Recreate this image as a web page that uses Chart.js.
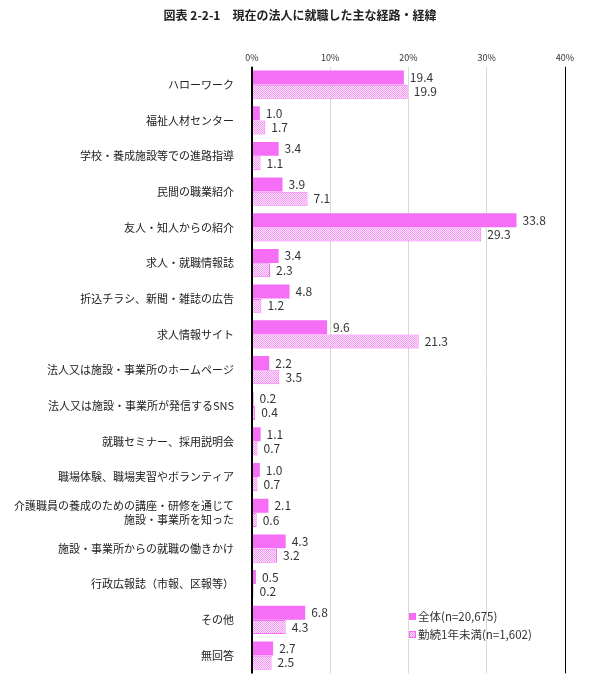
<!DOCTYPE html>
<html><head><meta charset="utf-8">
<script src="https://cdn.jsdelivr.net/npm/chart.js@4/dist/chart.umd.min.js"></script>
<style>html,body{margin:0;padding:0;background:#fff}#w{width:593px;height:690px}</style>
</head><body><div id="w"><canvas id="c"></canvas></div>
<script>
const categories = ["ハローワーク","福祉人材センター","学校・養成施設等での進路指導","民間の職業紹介","友人・知人からの紹介","求人・就職情報誌","折込チラシ、新聞・雑誌の広告","求人情報サイト","法人又は施設・事業所のホームページ","法人又は施設・事業所が発信するSNS","就職セミナー、採用説明会","職場体験、職場実習やボランティア",["介護職員の養成のための講座・研修を通じて","施設・事業所を知った"],"施設・事業所からの就職の働きかけ","行政広報誌（市報、区報等）","その他","無回答"];
const allValues = [19.4,1.0,3.4,3.9,33.8,3.4,4.8,9.6,2.2,0.2,1.1,1.0,2.1,4.3,0.5,6.8,2.7];
const newValues = [19.9,1.7,1.1,7.1,29.3,2.3,1.2,21.3,3.5,0.4,0.7,0.7,0.6,3.2,0.2,4.3,2.5];
const seriesNames = ["全体(n=20,675)","勤続1年未満(n=1,602)"];
const tickLabels = ["0%","10%","20%","30%","40%"];

const PINK = "#f56ef5";
function hatch(){
  const p=document.createElement('canvas');p.width=2;p.height=2;
  const x=p.getContext('2d');x.fillStyle='#fde6fd';x.fillRect(0,0,2,2);
  x.fillStyle='#f496f4';x.fillRect(0,0,1,1);x.fillRect(1,1,1,1);
  return x.createPattern(p,'repeat');
}
const pat = hatch();
const font = "'Noto Sans CJK JP', sans-serif";
Chart.defaults.font.family = font;

const labelsPlugin = {
  id:'lbl',
  afterDatasetsDraw(ch){
    const c=ch.ctx;c.save();c.font="12px "+font;c.fillStyle="#333";c.textBaseline='middle';
    ch.data.datasets.forEach((ds,i)=>{
      ch.getDatasetMeta(i).data.forEach((b,j)=>{
        c.fillText(ds.data[j].toFixed(1), b.x+6, b.y);
      });
    });
    let lx=409, ly=617;
    c.font="11.5px "+font;
    [[PINK,PINK],[pat,PINK]].forEach((s,k)=>{
      c.fillStyle=s[0];c.fillRect(lx,ly+k*18-4,7,7);
      c.strokeStyle=s[1];c.lineWidth=1;if(k)c.strokeRect(lx+.5,ly+k*18-3.5,6,6);
      c.fillStyle="#333";c.fillText(seriesNames[k],lx+9,ly+k*18);
    });
    const a=ch.chartArea;
    c.strokeStyle="#000";c.lineWidth=1;
    c.beginPath();c.moveTo(a.right+0.5,a.top);c.lineTo(a.right+0.5,a.bottom);c.stroke();
    c.lineWidth=2;c.beginPath();c.moveTo(a.left,a.top);c.lineTo(a.left,a.bottom);c.stroke();
    c.restore();
  }
};
const titlePlugin = {id:'ttl',afterDraw(ch){const c=ch.ctx;c.save();c.font="bold 12px "+font;c.fillStyle="#222";c.textAlign='center';c.fillText("図表 2-2-1　現在の法人に就職した主な経路・経緯",300,20);c.restore();}};

new Chart(document.getElementById('c'),{
  type:'bar',
  data:{labels:categories,datasets:[
    {label:seriesNames[0],data:allValues,backgroundColor:PINK,borderColor:PINK,borderWidth:0,categoryPercentage:0.8,barPercentage:0.98},
    {label:seriesNames[1],data:newValues,backgroundColor:pat,borderColor:PINK,borderWidth:1,categoryPercentage:0.8,barPercentage:0.98}
  ]},
  options:{indexAxis:'y',responsive:true,maintainAspectRatio:false,animation:false,
    layout:{padding:{top:48,right:28,bottom:9,left:0}},
    plugins:{legend:{display:false},tooltip:{enabled:false}},
    scales:{
      x:{position:'top',min:0,max:40,ticks:{stepSize:10,color:'#333',font:{size:9},padding:4,callback:(v,i)=>tickLabels[i]},grid:{color:'#d9d9d9',drawTicks:false},border:{display:false}},
      y:{ticks:{color:'#222',font:{size:11},padding:10},grid:{display:false},border:{display:false},afterFit(s){s.width=252;}}
    }
  },
  plugins:[labelsPlugin,titlePlugin]
});
</script></body></html>
